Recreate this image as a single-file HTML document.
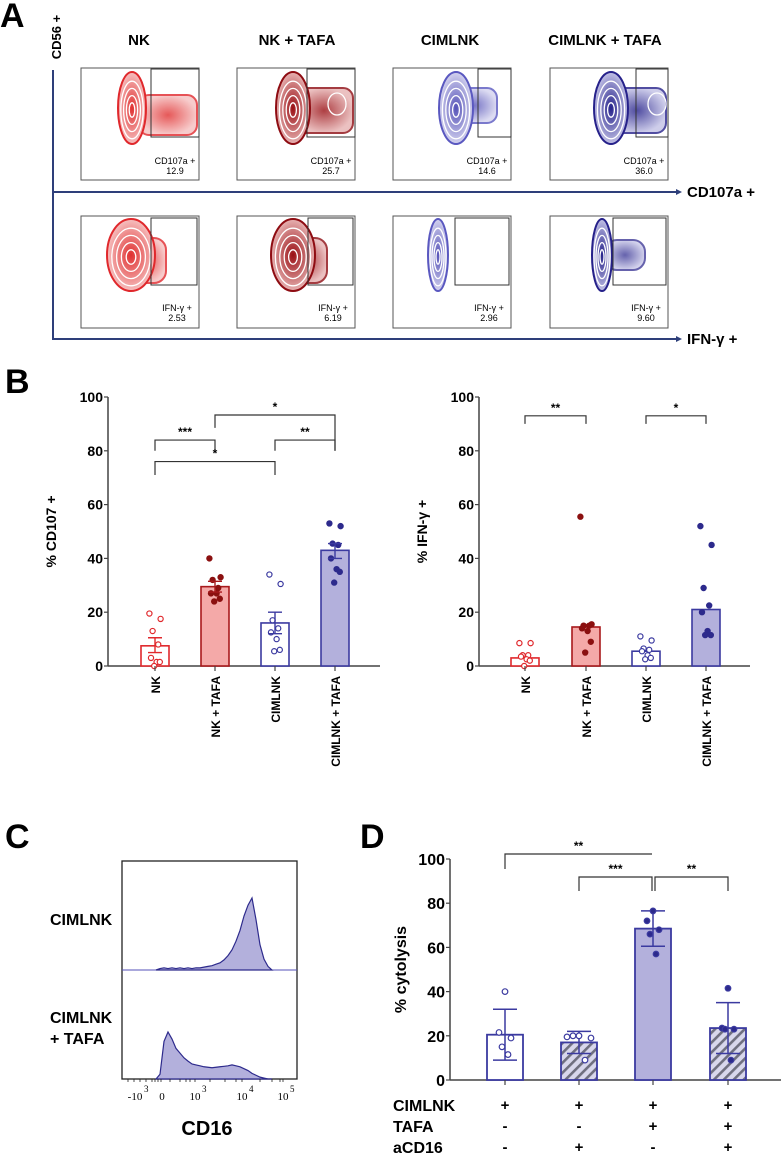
<!DOCTYPE html>
<html><head><meta charset="utf-8">
<style>
html,body{margin:0;padding:0;background:#fff;}
svg{display:block;font-family:"Liberation Sans Narrow","Liberation Sans",sans-serif;}
.b{font-weight:bold;}
</style></head>
<body>
<svg id="fig" width="781" height="1155" viewBox="0 0 781 1155" xmlns="http://www.w3.org/2000/svg">
<defs>
<pattern id="hatch" patternUnits="userSpaceOnUse" width="7" height="7" patternTransform="rotate(45)">
<rect width="7" height="7" fill="#d8d7ec"/><rect x="0" width="2.6" height="7" fill="#6f6f7f"/>
</pattern>
<radialGradient id="gR" cx="50%" cy="50%" r="50%"><stop offset="0" stop-color="#e03030"/><stop offset="1" stop-color="#f6c0c0"/></radialGradient>
<radialGradient id="gD" cx="50%" cy="50%" r="50%"><stop offset="0" stop-color="#9a0f14"/><stop offset="1" stop-color="#e7b2b2"/></radialGradient>
<radialGradient id="gB" cx="50%" cy="50%" r="50%"><stop offset="0" stop-color="#5552b8"/><stop offset="1" stop-color="#d4d3ef"/></radialGradient>
<radialGradient id="gN" cx="50%" cy="50%" r="50%"><stop offset="0" stop-color="#24208a"/><stop offset="1" stop-color="#c2c1e6"/></radialGradient>
</defs>
<g id="panelA">
<text x="0" y="27" font-size="34" class="b" font-family="Liberation Sans">A</text>
<text transform="translate(61,37) rotate(-90)" text-anchor="middle" font-size="13" class="b" font-family="Liberation Sans">CD56 +</text>
<line x1="53" y1="70" x2="53" y2="340" stroke="#2e3f7a" stroke-width="2"/>
<line x1="53" y1="192" x2="676" y2="192" stroke="#2e3f7a" stroke-width="2"/>
<path d="M676 189 L682 192 L676 195 Z" fill="#2e3f7a"/>
<text x="687" y="197" font-size="15" class="b">CD107a +</text>
<line x1="53" y1="339" x2="676" y2="339" stroke="#2e3f7a" stroke-width="2"/>
<path d="M676 336 L682 339 L676 342 Z" fill="#2e3f7a"/>
<text x="687" y="344" font-size="15" class="b">IFN-γ +</text>
<text x="139" y="45" font-size="15" class="b" text-anchor="middle">NK</text>
<text x="297" y="45" font-size="15" class="b" text-anchor="middle">NK + TAFA</text>
<text x="450" y="45" font-size="15" class="b" text-anchor="middle">CIMLNK</text>
<text x="605" y="45" font-size="15" class="b" text-anchor="middle">CIMLNK + TAFA</text>
<g id="flows"></g>
</g>
<g id="panelB">
<text x="5" y="393" font-size="34" class="b" font-family="Liberation Sans">B</text>
</g>
<g id="panelC">
<text x="5" y="848" font-size="34" class="b" font-family="Liberation Sans">C</text>
</g>
<g id="panelD">
<text x="360" y="848" font-size="34" class="b" font-family="Liberation Sans">D</text>
</g>
</svg>
<script>
// ---------- data ----------
const bCats = ["NK","NK + TAFA","CIMLNK","CIMLNK + TAFA"];
const cd107Means = [7.5, 29.5, 16, 43];
const cd107SemLo = [5, 27.5, 12, 40];
const cd107SemHi = [10.5, 31.5, 20, 45.5];
const cd107Pts0 = [19.5, 17.5, 13, 8, 3, 1.5, 1.5, 0];
const cd107Pts1 = [40, 33, 32, 29, 27, 27, 25, 24];
const cd107Pts2 = [34, 30.5, 17, 14, 12.5, 10, 6, 5.5];
const cd107Pts3 = [53, 52, 45.5, 45, 40, 36, 35, 31];
const ifnMedians = [3, 14.5, 5.5, 21];
const ifnPts0 = [8.5, 8.5, 4, 4, 3.5, 2.5, 2, 0];
const ifnPts1 = [55.5, 15.5, 15, 15, 14, 13, 9, 5];
const ifnPts2 = [11, 9.5, 6.5, 6, 5.5, 4, 3, 2.5];
const ifnPts3 = [52, 45, 29, 22.5, 20, 13, 11.5, 11.5];
const yTicks = [0, 20, 40, 60, 80, 100];
const cytoMeans = [20.5, 17, 68.5, 23.5];
const cytoSdLo = [9, 12, 60.5, 12];
const cytoSdHi = [32, 22, 76.5, 35];
const cytoPts0 = [40, 21.5, 19, 15, 11.5];
const cytoPts1 = [20, 19.5, 19, 20, 9];
const cytoPts2 = [76.5, 72, 68, 66, 57];
const cytoPts3 = [41.5, 23.5, 23, 23, 9];
const cimlnkRow = ["+","+","+","+"];
const tafaRow = ["-","-","+","+"];
const acd16Row = ["-","+","-","+"];
const flowCd107 = ["12.9","25.7","14.6","36.0"];
const flowIfng = ["2.53","6.19","2.96","9.60"];
const histTop = [0,2,3,2,3,2,3,2,3,2,3,3,4,5,6,8,10,14,20,28,40,55,75,90,100,70,35,15,5,0];
const histBottom = [0,10,80,100,85,65,55,45,38,32,30,28,26,25,24,25,26,27,28,30,28,26,22,18,12,8,4,2,0,0];

const NS = "http://www.w3.org/2000/svg";
function mk(parent, tag, attrs, text){
  const e = document.createElementNS(NS, tag);
  for (const k in attrs) e.setAttribute(k, attrs[k]);
  if (text !== undefined) e.textContent = text;
  parent.appendChild(e);
  return e;
}
const jit = [-7, 7, -3, 4, -5, 2, 6, -1];

// ---------- Panel A flow plots ----------
const flows = document.getElementById('flows');
const boxX = [81, 237, 393, 550];
const gateX1 = [151, 307, 478, 636];
const gateX2 = [151, 308, 455, 613];
const fills = ["url(#gR)","url(#gD)","url(#gB)","url(#gN)"];
const edge = ["#e0282c","#8e0c12","#5a58c0","#26218a"];
function blob(g, cx, cy, rx, ry, i){
  mk(g,'ellipse',{cx:cx,cy:cy,rx:rx,ry:ry,fill:fills[i],stroke:edge[i],'stroke-width':2});
  for (let k=1;k<=4;k++){
    mk(g,'ellipse',{cx:cx,cy:cy+2,rx:rx*(1-k*0.2),ry:ry*(1-k*0.2),fill:'none',stroke:'#fff','stroke-width':1.3});
  }
}
for (let i=0;i<4;i++){
  const x = boxX[i];
  const g1 = mk(flows,'g',{});
  
  
  mk(g1,'rect',{x:x,y:68,width:118,height:112,fill:'#fff',stroke:'#555','stroke-width':1});
  mk(g1,'rect',{x:x+58,y:i===0?95:88,width:i===2?46:58,height:i===0?40:i===2?35:45,rx:10,fill:fills[i],stroke:edge[i],'stroke-width':2,opacity:0.8});
  blob(g1, x+(i===0?51:i===1?56:i===2?63:61), 108, i===0?14:17, 36, i);
  if(i===1||i===3){ mk(g1,'ellipse',{cx:x+(i===1?100:107),cy:104,rx:9,ry:11,fill:'none',stroke:'#fff','stroke-width':1.3}); }
  mk(g1,'rect',{x:gateX1[i],y:69,width:x+118-gateX1[i],height:68,fill:'none',stroke:'#333','stroke-width':1});
  mk(g1,'text',{x:x+94,y:164,'font-size':9,'text-anchor':'middle'},'CD107a +');
  mk(g1,'text',{x:x+94,y:174,'font-size':9,'text-anchor':'middle'},flowCd107[i]);
  const g2 = mk(flows,'g',{});
  
  
  mk(g2,'rect',{x:x,y:216,width:118,height:112,fill:'#fff',stroke:'#555','stroke-width':1});
  if(i<2){
    mk(g2,'rect',{x:x+50,y:238,width:i===0?35:40,height:45,rx:12,fill:fills[i],stroke:edge[i],'stroke-width':2,opacity:0.8});
    blob(g2, x+(i===0?50:56), 255, i===0?24:22, 36, i);
  } else {
    if(i===3) mk(g2,'rect',{x:x+55,y:240,width:40,height:30,rx:12,fill:fills[i],stroke:edge[i],'stroke-width':2,opacity:0.7});
    blob(g2, x+(i===2?45:52), 255, 10, 36, i);
  }
  mk(g2,'rect',{x:gateX2[i],y:218,width:x+116-gateX2[i],height:67,fill:'none',stroke:'#333','stroke-width':1});
  mk(g2,'text',{x:x+96,y:311,'font-size':9,'text-anchor':'middle'},'IFN-γ +');
  mk(g2,'text',{x:x+96,y:321,'font-size':9,'text-anchor':'middle'},flowIfng[i]);
}

// ---------- Panel B ----------
const pB = document.getElementById('panelB');
const bY = v => 666 - v*2.69;
const barStroke = ["#e0282c","#a8191c","#3b3aa0","#3b3aa0"];
const barFill = ["#ffffff","#f4a9a8","#ffffff","#b3b0dc"];
const ptCol = ["#e0282c","#8b1010","#3b3aa0","#2d2a8c"];
const ptOpen = [true,false,true,false];
function axisB(g, ax, x2, title, name){
  mk(g,'line',{x1:ax,y1:bY(100),x2:ax,y2:666,stroke:'#444','stroke-width':1.5});
  mk(g,'line',{x1:ax,y1:666,x2:x2,y2:666,stroke:'#444','stroke-width':1.5});
  yTicks.forEach(t=>{
    mk(g,'line',{x1:ax-4,y1:bY(t),x2:ax,y2:bY(t),stroke:'#444','stroke-width':1.2});
    const tx = mk(g,'text',{x:ax-5,y:bY(t)+5,'font-size':14,'text-anchor':'end','font-weight':'bold'},t);
    
    
  });
  const tt = mk(g,'text',{transform:`translate(${ax-52},${bY(50)}) rotate(-90)`,'font-size':14,'text-anchor':'middle','font-weight':'bold','font-family':'Liberation Sans'},title);
  
  
}
function catLabels(g, xs){
  bCats.forEach((c,i)=>{
    mk(g,'line',{x1:xs[i],y1:666,x2:xs[i],y2:671,stroke:'#444','stroke-width':1.2});
    const t = mk(g,'text',{transform:`translate(${xs[i]+5},${676}) rotate(-90)`,'font-size':12,'text-anchor':'end','font-weight':'bold','font-family':'Liberation Sans'},c);
    
    
  });
}
function bracket(g, x1, x2, yTop, yLeg1, yLeg2, label){
  const p = mk(g,'path',{d:`M${x1} ${yLeg1} V${yTop} H${x2} V${yLeg2}`,fill:'none',stroke:'#333','stroke-width':1.2});
  
  
  mk(g,'text',{x:(x1+x2)/2,y:yTop-4,'font-size':12,'text-anchor':'middle','font-weight':'bold'},label);
}
function dots(g, xc, pts, i, yf){
  pts.forEach((v,k)=>{
    const c = mk(g,'circle',{cx:xc+jit[k%jit.length]*0.8,cy:yf(v),r:2.6,fill:ptOpen[i]?'#fff':ptCol[i],stroke:ptCol[i],'stroke-width':1.2});
    
    
  });
}
const gL = mk(pB,'g',{});


const xL = [155,215,275,335];
axisB(gL,108,380,'% CD107 +','cd107-y-axis-title');
const ptsL = [cd107Pts0,cd107Pts1,cd107Pts2,cd107Pts3];
cd107Means.forEach((m,i)=>{
  const r = mk(gL,'rect',{x:xL[i]-14,y:bY(m),width:28,height:666-bY(m),fill:barFill[i],stroke:barStroke[i],'stroke-width':1.6});
  
  
  dots(gL,xL[i],ptsL[i],i,bY);
  mk(gL,'path',{d:`M${xL[i]} ${bY(cd107SemLo[i])} V${bY(cd107SemHi[i])} M${xL[i]-7} ${bY(cd107SemLo[i])} h14 M${xL[i]-7} ${bY(cd107SemHi[i])} h14`,stroke:barStroke[i],'stroke-width':1.4,fill:'none'});
});
catLabels(gL,xL);
bracket(gL,xL[0],xL[1],bY(84),bY(80),bY(80),'***');
bracket(gL,xL[1],xL[3],bY(93.3),bY(88.5),bY(80),'*');
bracket(gL,xL[2],xL[3],bY(84),bY(80),bY(80),'**');
bracket(gL,xL[0],xL[2],bY(76),bY(71),bY(71),'*');
const gR = mk(pB,'g',{});


const xR = [525,586,646,706];
axisB(gR,479,750,'% IFN-γ +','ifng-y-axis-title');
const ptsR = [ifnPts0,ifnPts1,ifnPts2,ifnPts3];
ifnMedians.forEach((m,i)=>{
  const r = mk(gR,'rect',{x:xR[i]-14,y:bY(m),width:28,height:666-bY(m),fill:barFill[i],stroke:barStroke[i],'stroke-width':1.6});
  
  
  dots(gR,xR[i],ptsR[i],i,bY);
});
catLabels(gR,xR);
bracket(gR,xR[0],xR[1],bY(93),bY(90),bY(90),'**');
bracket(gR,xR[2],xR[3],bY(93),bY(90),bY(90),'*');

// ---------- Panel C ----------
const pC = document.getElementById('panelC');
const gC = mk(pC,'g',{});


mk(gC,'rect',{x:122,y:861,width:175,height:218,fill:'#fff',stroke:'#222','stroke-width':1.3});
mk(gC,'line',{x1:122,y1:970,x2:297,y2:970,stroke:'#5552b8','stroke-width':1});
const hx = k => 156 + k*4;
function hist(arr, base, hmax, name){
  let d = `M${hx(0)} ${base}`;
  arr.forEach((v,k)=>{ d += ` L${hx(k)} ${base - v/100*hmax}`; });
  d += ` L${hx(arr.length-1)} ${base} Z`;
  const p = mk(gC,'path',{d:d,fill:'#b3b0dc',stroke:'#2d2a8c','stroke-width':1.2});
  
  
}
hist(histTop,970,72,'cimlnk-histogram');
hist(histBottom,1079,47,'cimlnk-tafa-histogram');
[128,134,140,146,152,155,158,161,170,180,186,190,195,210,225,236,242,260,272,280,283].forEach(x=>{
  mk(gC,'line',{x1:x,y1:1079,x2:x,y2:1082,stroke:'#222','stroke-width':0.8});
});
const cTicks = [["-10",135],["0",162],["10",195],["10",242],["10",283]];
const cExp = ["3","","3","4","5"];
cTicks.forEach((t,k)=>{
  mk(gC,'text',{x:t[1],y:1100,'font-size':11,'text-anchor':'middle','font-family':'Liberation Serif'},t[0]);
  if(cExp[k]) mk(gC,'text',{x:t[1]+(k===0?9:7),y:1092,'font-size':9,'font-family':'Liberation Serif'},cExp[k]);
});
mk(gC,'text',{x:207,y:1135,'font-size':20,'text-anchor':'middle','font-weight':'bold'},'CD16');
mk(gC,'text',{x:50,y:925,'font-size':16,'font-weight':'bold'},'CIMLNK');
mk(gC,'text',{x:50,y:1023,'font-size':16,'font-weight':'bold'},'CIMLNK');
mk(gC,'text',{x:50,y:1044,'font-size':16,'font-weight':'bold'},'+ TAFA');

// ---------- Panel D ----------
const pD = document.getElementById('panelD');
const gD = mk(pD,'g',{});


const dY = v => 1080 - v*2.21;
const xD = [505,579,653,728];
mk(gD,'line',{x1:450,y1:dY(100),x2:450,y2:1080,stroke:'#444','stroke-width':1.5});
mk(gD,'line',{x1:450,y1:1080,x2:781,y2:1080,stroke:'#444','stroke-width':1.5});
yTicks.forEach(t=>{
  mk(gD,'line',{x1:446,y1:dY(t),x2:450,y2:dY(t),stroke:'#444','stroke-width':1.2});
  const tx = mk(gD,'text',{x:445,y:dY(t)+6,'font-size':16,'text-anchor':'end','font-weight':'bold'},t);
  
  
});
const ytD = mk(gD,'text',{transform:`translate(406,${dY(50)}) rotate(-90)`,'font-size':16,'text-anchor':'middle','font-weight':'bold','font-family':'Liberation Sans'},'% cytolysis');


const dFill = ['#ffffff','url(#hatch)','#b3b0dc','url(#hatch)'];
const dOpen = [true,true,false,false];
const ptsD = [cytoPts0,cytoPts1,cytoPts2,cytoPts3];
const jD = [0,-6,6,-3,3];
cytoMeans.forEach((m,i)=>{
  const r = mk(gD,'rect',{x:xD[i]-18,y:dY(m),width:36,height:1080-dY(m),fill:dFill[i],stroke:'#3b3aa0','stroke-width':1.8});
  
  
  mk(gD,'path',{d:`M${xD[i]} ${dY(cytoSdLo[i])} V${dY(cytoSdHi[i])} M${xD[i]-12} ${dY(cytoSdLo[i])} h24 M${xD[i]-12} ${dY(cytoSdHi[i])} h24`,stroke:'#3b3aa0','stroke-width':1.5,fill:'none'});
  ptsD[i].forEach((v,k)=>{
    const c = mk(gD,'circle',{cx:xD[i]+jD[k]*(i===1?2:1),cy:dY(v),r:2.8,fill:dOpen[i]?'#fff':'#2d2a8c',stroke:'#3b3aa0','stroke-width':1.2});
    
    
  });
  mk(gD,'line',{x1:xD[i],y1:1080,x2:xD[i],y2:1085,stroke:'#444','stroke-width':1.2});
});
bracket(gD,xD[0],xD[2]-1,854,869,854,'**');
bracket(gD,xD[1],xD[2]-1,877,891,891,'***');
bracket(gD,xD[2]+2,xD[3],877,891,891,'**');
const rows = [["CIMLNK",cimlnkRow,1112],["TAFA",tafaRow,1133],["aCD16",acd16Row,1154]];
rows.forEach(r=>{
  const t = mk(gD,'text',{x:393,y:r[2]-1,'font-size':16,'font-weight':'bold'},r[0]);
  
  
  r[1].forEach((s,i)=>{
    mk(gD,'text',{x:xD[i],y:r[2]-2,'font-size':15,'text-anchor':'middle','font-weight':'bold'},s);
  });
});
</script>
</body></html>
